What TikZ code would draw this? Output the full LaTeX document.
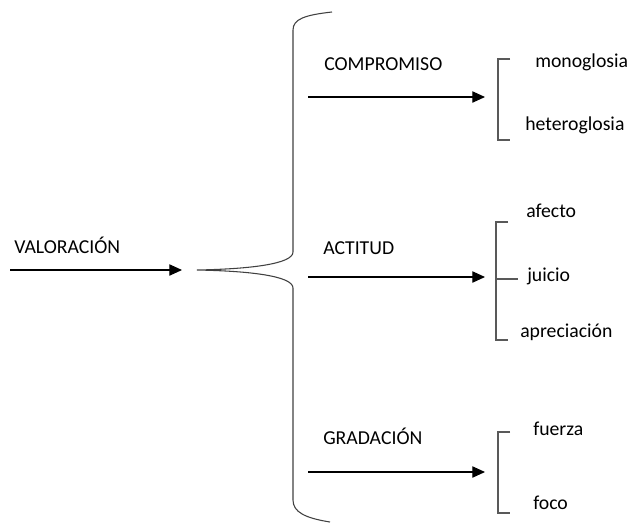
\documentclass[tikz,border=0pt]{standalone}
\usepackage{fontspec}
\setmainfont{Carlito}
\usetikzlibrary{arrows.meta}
\begin{document}
\begin{tikzpicture}[x=0.75pt,y=-0.75pt,
  lbl/.style={anchor=base west,inner sep=0pt,font=\fontsize{14.8}{17}\selectfont,text=black},
  arr/.style={draw=black,line width=0.8pt,-{Triangle[length=9.5pt,width=8.5pt]}},
  brk/.style={draw=black!65,line width=0.8pt},
  brace/.style={draw=black!75,line width=0.8pt}]
\useasboundingbox (0,0) rectangle (631,526);
% main label and arrow
\node[lbl] (val) at (14,253) {VALORACIÓN};
\coordinate (a0s) at (10,270);
\coordinate (a0e) at (182,270);
\draw[arr] (a0s) -- (a0e);
% brace
\coordinate (btop) at (332,12);
\coordinate (btip) at (197,270);
\coordinate (bbot) at (330,522);
\draw[brace] (btop) .. controls (305,15) and (293,19) .. (293,30)
  -- (293,252) .. controls (293,264) and (250,269) .. (btip)
  .. controls (250,271) and (293,276) .. (293,288)
  -- (293,500) .. controls (293,512) and (305,518) .. (bbot);
% category labels
\node[lbl] (comp) at (324,70) {COMPROMISO};
\node[lbl] (act) at (323,254) {ACTITUD};
\node[lbl] (grad) at (323,444) {GRADACIÓN};
% arrows
\coordinate (c1s) at (308,97);  \coordinate (c1e) at (485,97);
\coordinate (c2s) at (308,277); \coordinate (c2e) at (485,277);
\coordinate (c3s) at (308,472); \coordinate (c3e) at (485,472);
\draw[arr] (c1s) -- (c1e);
\draw[arr] (c2s) -- (c2e);
\draw[arr] (c3s) -- (c3e);
% brackets
\draw[brk] (510,59) -- (498,59) -- (498,140) -- (510,140);
\draw[brk] (508,222) -- (496,222) -- (496,340) -- (508,340);
\draw[brk] (496,279) -- (518,279);
\draw[brk] (510,432) -- (498,432) -- (498,513) -- (510,513);
% leaf labels
\node[lbl] (mono) at (535,67) {monoglosia};
\node[lbl] (hetero) at (525,130) {heteroglosia};
\node[lbl] (afec) at (526,217) {afecto};
\node[lbl] (juic) at (527,281) {juicio};
\node[lbl] (apre) at (520,337) {apreciación};
\node[lbl] (fuer) at (533,435) {fuerza};
\node[lbl] (foco) at (533,509) {foco};
\end{tikzpicture}
\end{document}
